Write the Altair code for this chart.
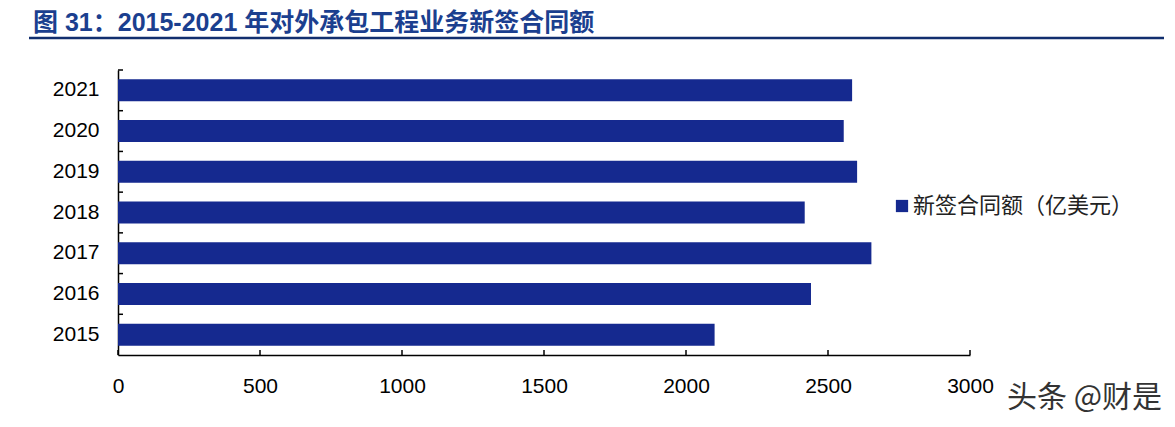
import altair as alt
import pandas as pd

# ---- data ----
years = ["2015", "2016", "2017", "2018", "2019", "2020", "2021"]
values = [2100.7, 2440.1, 2652.8, 2418.0, 2602.5, 2555.4, 2584.9]
series_name = "新签合同额（亿美元）"
x_ticks = [0, 500, 1000, 1500, 2000, 2500, 3000]
title_text = "图 31：2015-2021 年对外承包工程业务新签合同额"
watermark_text = "头条 @财是"

years_desc = years[::-1]
df = pd.DataFrame({"year": years, "value": values, "series": series_name})
tick_df = pd.DataFrame({"value": x_ticks})
one = pd.DataFrame({"a": [0]})

W, H = 852, 285
BAR_COLOR = "#15298F"
NAVY = "#112E6E"
LATIN = "Liberation Sans, Arial, Noto Sans CJK SC"
CJK = "Noto Sans CJK SC, Liberation Sans"

y_axis = alt.Axis(
    title=None, ticks=False, domain=True, domainColor="black", domainWidth=1.5,
    labelFontSize=21, labelFont=LATIN, labelColor="black", labelPadding=19,
)
x_axis = alt.Axis(
    title=None, ticks=False, grid=False, values=x_ticks, domain=True, format="d",
    domainColor="black", domainWidth=1.5, labelFontSize=21, labelFont=LATIN,
    labelColor="black", labelPadding=20, labelFlush=False,
)
y_scale = alt.Scale(paddingInner=0, paddingOuter=0)
x_scale = alt.Scale(domain=[0, 3000], nice=False)

bars = alt.Chart(df).mark_bar(height=22).encode(
    y=alt.Y("year:N", sort=years_desc, scale=y_scale, axis=y_axis),
    x=alt.X("value:Q", scale=x_scale, axis=x_axis),
    color=alt.Color(
        "series:N",
        scale=alt.Scale(range=[BAR_COLOR]),
        legend=alt.Legend(
            title=None, orient="none", legendX=773, legendY=125, symbolType="square",
            symbolSize=150, symbolStrokeWidth=0, labelFontSize=22, labelFont=CJK,
            labelColor="#222222", labelLimit=400, padding=0, labelOffset=0,
        ),
    ),
)

y_ticks = alt.Chart(df).mark_rule(color="black", strokeWidth=1.5).encode(
    y=alt.Y("year:N", sort=years_desc, scale=y_scale, axis=y_axis, bandPosition=0),
    x=alt.value(0),
    x2=alt.value(5),
)

x_tick_marks = alt.Chart(tick_df).mark_rule(color="black", strokeWidth=1.5).encode(
    x=alt.X("value:Q", scale=x_scale, axis=x_axis),
    y=alt.value(H),
    y2=alt.value(H - 5),
)

title = alt.Chart(one).mark_text(
    text=title_text, align="left", baseline="middle", fontSize=25,
    fontWeight="bold", font=LATIN, color="#1B3F8F",
).encode(x=alt.value(-85), y=alt.value(-47))

top_line = alt.Chart(one).mark_rule(color=NAVY, strokeWidth=2.5).encode(
    x=alt.value(-89), x2=alt.value(1046), y=alt.value(-32)
)
bottom_line = alt.Chart(one).mark_rule(color=NAVY, strokeWidth=2.5).encode(
    x=alt.value(-89), x2=alt.value(1046), y=alt.value(354)
)

watermark = alt.Chart(one).mark_text(
    text=watermark_text, align="left", baseline="middle", fontSize=30,
    font=CJK, color="#333333",
).encode(x=alt.value(889), y=alt.value(328))

chart = alt.layer(
    bars, y_ticks, x_tick_marks, title, top_line, bottom_line, watermark
).properties(
    width=W, height=H,
    background="white",
    autosize=alt.AutoSizeParams(type="none"),
    padding={"left": 110, "top": 62, "right": 197, "bottom": 64},
).configure_view(stroke=None)

chart.save("out.html", embed_options={"renderer": "svg", "actions": False})
